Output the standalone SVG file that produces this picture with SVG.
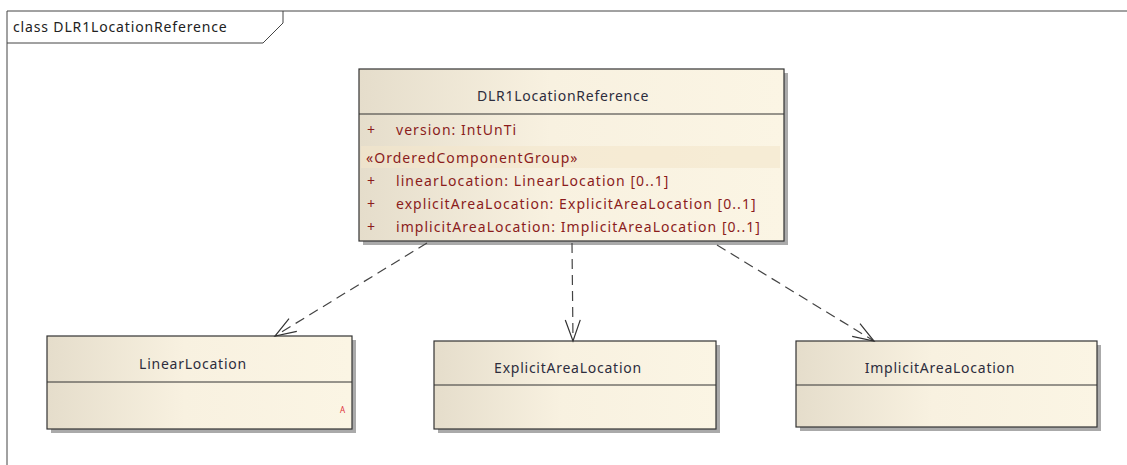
<svg xmlns="http://www.w3.org/2000/svg" width="1127" height="465" viewBox="0 0 1127 465">
<defs>
<linearGradient id="g" x1="0" y1="0" x2="1" y2="0">
<stop offset="0" stop-color="#e5ddcb"/>
<stop offset="0.45" stop-color="#f8f1e0"/>
<stop offset="1" stop-color="#fbf5e4"/>
</linearGradient>
<marker id="open" viewBox="0 0 24 20" refX="22" refY="10" markerWidth="24" markerHeight="20" markerUnits="userSpaceOnUse" orient="auto">
<path d="M1,2.5 L22,10 L1,17.5" fill="none" stroke="#333" stroke-width="1.2"/>
</marker>
</defs>
<style>
.frame{fill:none;stroke:#444;stroke-width:1}
.box{fill:url(#g);stroke:#333;stroke-width:1.2}
.shadow{fill:#aaa}
.sep{stroke:#333;stroke-width:1}
.name{font-family:"Noto Sans",sans-serif;font-size:14px;letter-spacing:0.75px;fill:#2d2d3d;text-anchor:middle}
.attr{font-family:"Noto Sans",sans-serif;font-size:14px;letter-spacing:1.05px;fill:#8b1c1c}
.title{font-family:"Noto Sans",sans-serif;font-size:14px;letter-spacing:0.85px;fill:#222}
.dep{fill:none;stroke:#444;stroke-width:1.2;stroke-dasharray:10,6}
</style>
<rect width="1127" height="465" fill="#fff"/>
<g id="frame">
<path class="frame" d="M7,465 L7,11 L1127,11"/>
<path class="frame" d="M7,43 L263,43 L283,23 L283,11"/>
<text class="title" x="13" y="32">class DLR1LocationReference</text>
</g>
<g id="DLR1LocationReference">
<rect class="shadow" x="363" y="73" width="425" height="172"/>
<rect class="box" x="359" y="69" width="425" height="172"/>
<line class="sep" x1="359" y1="114" x2="784" y2="114"/>
<text class="name" x="563" y="101">DLR1LocationReference</text>
<text class="attr" x="367" y="135">+</text>
<text class="attr" x="396" y="135">version: IntUnTi</text>
<rect x="361" y="146" width="419" height="22" fill="#f3e6cc" opacity="0.6"/>
<text class="attr" x="366" y="163">«OrderedComponentGroup»</text>
<text class="attr" x="367" y="186">+</text>
<text class="attr" x="396" y="186">linearLocation: LinearLocation [0..1]</text>
<text class="attr" x="367" y="209">+</text>
<text class="attr" x="396" y="209">explicitAreaLocation: ExplicitAreaLocation [0..1]</text>
<text class="attr" x="367" y="232">+</text>
<text class="attr" x="396" y="232">implicitAreaLocation: ImplicitAreaLocation [0..1]</text>
</g>
<g id="LinearLocation">
<rect class="shadow" x="51" y="340" width="305" height="93"/>
<rect class="box" x="47" y="336" width="305" height="93"/>
<line class="sep" x1="47" y1="382" x2="352" y2="382"/>
<text class="name" x="193" y="369">LinearLocation</text>
<text x="340" y="413" font-family="Noto Sans,sans-serif" font-size="8" fill="#e0303a">A</text>
</g>
<g id="ExplicitAreaLocation">
<rect class="shadow" x="438" y="345" width="282" height="88"/>
<rect class="box" x="434" y="341" width="282" height="88"/>
<line class="sep" x1="434" y1="385" x2="716" y2="385"/>
<text class="name" x="568" y="373">ExplicitAreaLocation</text>
</g>
<g id="ImplicitAreaLocation">
<rect class="shadow" x="800" y="345" width="301" height="86"/>
<rect class="box" x="796" y="341" width="301" height="86"/>
<line class="sep" x1="796" y1="385" x2="1097" y2="385"/>
<text class="name" x="940" y="373">ImplicitAreaLocation</text>
</g>
<g id="connectors">
<line class="dep" x1="427" y1="243" x2="275" y2="336" marker-end="url(#open)"/>
<line class="dep" x1="572" y1="243" x2="573" y2="341" marker-end="url(#open)"/>
<line class="dep" x1="717" y1="245" x2="874" y2="341" marker-end="url(#open)"/>
</g>
</svg>
